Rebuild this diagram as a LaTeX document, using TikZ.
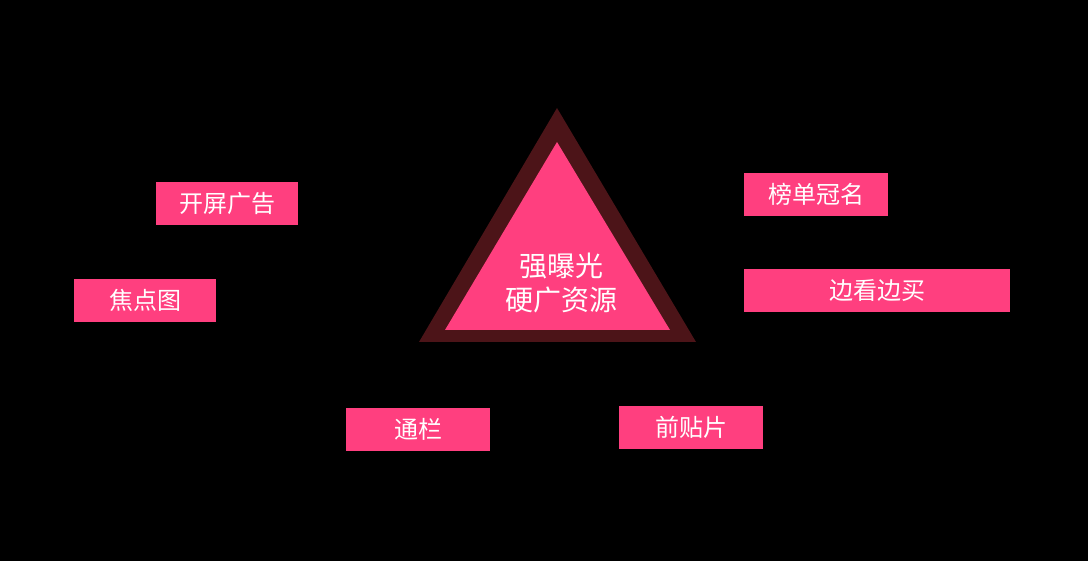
\documentclass[tikz,border=0pt]{standalone}
\usepackage{fontspec}
\setmainfont{Noto Sans CJK SC}
\definecolor{hotpink}{HTML}{FF3F7F}
\definecolor{darkrim}{HTML}{4C1418}
\tikzset{
  tag/.style = {fill = hotpink, text = white, inner sep = 0pt, minimum height = 43pt, font = \fontsize{24}{28}\selectfont},
}
\begin{document}
\begin{tikzpicture}[x = 1pt, y = -1pt]
		\fill[black] (0,0) rectangle (1088,561);
		\fill[darkrim] (557,108) -- (696,342) -- (419,342) -- cycle;
		\fill[hotpink] (557,142) -- (670,330) -- (445,330) -- cycle;
		\node[text = white, align = center, font = \fontsize{28}{34}\selectfont] (core) at (561,283) {强曝光\\硬广资源};
		\node[tag, minimum width = 142pt] (splash) at (227,203.5) {开屏广告};
		\node[tag, minimum width = 142pt] (focus) at (145,300.5) {焦点图};
		\node[tag, minimum width = 144pt] (chart) at (816,194.5) {榜单冠名};
		\node[tag, minimum width = 266pt] (shop) at (877,290.5) {边看边买};
		\node[tag, minimum width = 144pt] (banner) at (418,429.5) {通栏};
		\node[tag, minimum width = 144pt] (preroll) at (691,427.5) {前贴片};
	\end{tikzpicture}
\end{document}
